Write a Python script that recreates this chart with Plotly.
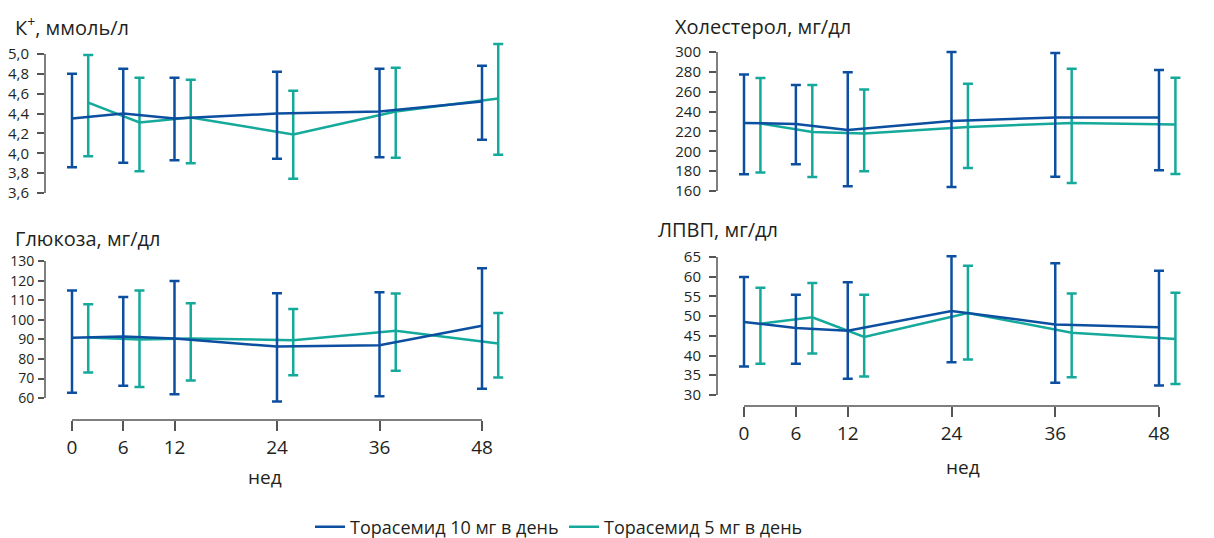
import plotly.graph_objects as go

weeks = [0, 6, 12, 24, 36, 48]
green_offset = 1.9  # horizontal dodge of the 5 mg series

series_names = ["Торасемид 10 мг в день", "Торасемид 5 мг в день"]
colors = ["#0c4fa0", "#14a99a"]

# K+, mmol/l
k_blue_mean = [4.35, 4.40, 4.35, 4.40, 4.42, 4.52]
k_blue_hi = [4.80, 4.85, 4.76, 4.82, 4.85, 4.88]
k_blue_lo = [3.86, 3.905, 3.93, 3.945, 3.96, 4.135]
k_green_mean = [4.51, 4.31, 4.36, 4.19, 4.42, 4.55]
k_green_hi = [4.99, 4.76, 4.74, 4.63, 4.86, 5.10]
k_green_lo = [3.97, 3.82, 3.90, 3.745, 3.955, 3.985]

# Cholesterol, mg/dl
ch_blue_mean = [228.5, 227.5, 221.5, 230.5, 234.0, 234.0]
ch_blue_hi = [277.2, 266.8, 279.5, 300.0, 299.0, 281.9]
ch_blue_lo = [176.8, 186.9, 164.7, 164.0, 174.4, 180.8]
ch_green_mean = [228.0, 219.5, 218.0, 224.5, 228.5, 227.0]
ch_green_hi = [273.8, 266.8, 262.1, 268.1, 283.2, 274.1]
ch_green_lo = [178.5, 174.1, 179.8, 183.2, 168.1, 177.1]

# Glucose, mg/dl
gl_blue_mean = [90.8, 91.4, 90.4, 86.3, 87.0, 97.0]
gl_blue_hi = [115.0, 111.6, 119.8, 113.5, 114.0, 126.3]
gl_blue_lo = [62.7, 66.3, 62.0, 58.3, 60.9, 64.8]
gl_green_mean = [90.9, 89.9, 90.4, 89.6, 94.4, 87.9]
gl_green_hi = [107.9, 115.0, 108.4, 105.5, 113.4, 103.5]
gl_green_lo = [73.1, 65.6, 69.0, 71.6, 73.9, 70.5]

# HDL (ЛПВП), mg/dl
hdl_blue_mean = [48.5, 47.0, 46.3, 51.3, 47.9, 47.2]
hdl_blue_hi = [59.9, 55.4, 58.6, 65.2, 63.4, 61.5]
hdl_blue_lo = [37.2, 37.9, 34.1, 38.3, 33.1, 32.4]
hdl_green_mean = [48.1, 49.7, 44.7, 50.8, 45.8, 44.2]
hdl_green_hi = [57.2, 58.4, 55.4, 62.8, 55.7, 55.9]
hdl_green_lo = [37.9, 40.5, 34.7, 39.0, 34.5, 32.8]

k_ticks = [3.6, 3.8, 4.0, 4.2, 4.4, 4.6, 4.8, 5.0]
k_ticktext = ["3,6", "3,8", "4,0", "4,2", "4,4", "4,6", "4,8", "5,0"]
ch_ticks = [160, 180, 200, 220, 240, 260, 280, 300]
gl_ticks = [60, 70, 80, 90, 100, 110, 120, 130]
hdl_ticks = [30, 35, 40, 45, 50, 55, 60, 65]

titles = ["К<sup>+</sup>, ммоль/л", "Холестерол, мг/дл", "Глюкоза, мг/дл", "ЛПВП, мг/дл"]
x_label = "нед"

# The page body has an 8px default margin, so the figure is offset by 8px.
PAGE_W, PAGE_H, OFF = 1214, 538, 8
W, H = PAGE_W - OFF, PAGE_H - OFF
FONT = "Open Sans"
AXIS_COLOR = "#555555"
TEXT_COLOR = "#231f20"


def px_x(p):
    return (p - OFF) / W


def px_y(p):
    return 1 - (p - OFF) / H


fig = go.Figure()

panels = [
    ("", (k_blue_mean, k_blue_hi, k_blue_lo, k_green_mean, k_green_hi, k_green_lo),
     k_ticks, k_ticktext, [3.53, 5.19]),
    ("2", (ch_blue_mean, ch_blue_hi, ch_blue_lo, ch_green_mean, ch_green_hi, ch_green_lo),
     ch_ticks, [str(v) for v in ch_ticks], [150.9, 317.1]),
    ("3", (gl_blue_mean, gl_blue_hi, gl_blue_lo, gl_green_mean, gl_green_hi, gl_green_lo),
     gl_ticks, [str(v) for v in gl_ticks], [48.8, 138.2]),
    ("4", (hdl_blue_mean, hdl_blue_hi, hdl_blue_lo, hdl_green_mean, hdl_green_hi, hdl_green_lo),
     hdl_ticks, [str(v) for v in hdl_ticks], [27.2, 69.3]),
]

for i, (sfx, d, ticks, ttext, yr) in enumerate(panels):
    bm, bh, bl, gm, gh, gl = d
    xa, ya = "x" + sfx, "y" + sfx
    gx = [w + green_offset for w in weeks]
    fig.add_trace(go.Scatter(
        x=gx, y=gm, mode="lines", xaxis=xa, yaxis=ya,
        name=series_names[1], legendgroup="g", showlegend=(i == 0), legendrank=2,
        line=dict(color=colors[1], width=2.5),
        error_y=dict(type="data", symmetric=False,
                     array=[h - m for h, m in zip(gh, gm)],
                     arrayminus=[m - l for m, l in zip(gm, gl)],
                     color=colors[1], thickness=2.5, width=5),
        hoverinfo="skip"))
    fig.add_trace(go.Scatter(
        x=weeks, y=bm, mode="lines", xaxis=xa, yaxis=ya,
        name=series_names[0], legendgroup="b", showlegend=(i == 0), legendrank=1,
        line=dict(color=colors[0], width=2.5),
        error_y=dict(type="data", symmetric=False,
                     array=[h - m for h, m in zip(bh, bm)],
                     arrayminus=[m - l for m, l in zip(bm, bl)],
                     color=colors[0], thickness=2.5, width=5),
        hoverinfo="skip"))

left_dom = [px_x(45), px_x(520)]
right_dom = [px_x(717), 1.0]
left_xr = [-(72 - 45) / 8.542, 48 + (520 - 482) / 8.542]
right_xr = [-(744 - 717) / 8.646, 48 + (1214 - 1159) / 8.646]

dom_y = {
    "": [px_y(200), px_y(35)],
    "2": [px_y(200), px_y(35)],
    "3": [px_y(420), px_y(245)],
    "4": [px_y(406), px_y(240)],
}
x_dom = {"": left_dom, "2": right_dom, "3": left_dom, "4": right_dom}
x_rng = {"": left_xr, "2": right_xr, "3": left_xr, "4": right_xr}
y_standoff = {"": 5, "2": 5, "3": 1, "4": 5}
y_fontsize = {"": 15, "2": 15, "3": 14, "4": 15}
y_ticklen = {"": 7, "2": 7, "3": 6, "4": 7}

layout = dict(
    width=W, height=H,
    margin=dict(l=0, r=0, t=0, b=0, pad=0, autoexpand=False),
    paper_bgcolor="white", plot_bgcolor="white",
    font=dict(family=FONT, color=TEXT_COLOR),
    showlegend=True,
    legend=dict(orientation="h", x=px_x(310), xanchor="left", y=px_y(527), yanchor="middle",
                font=dict(size=18, family=FONT, color=TEXT_COLOR),
                traceorder="normal", itemwidth=30, entrywidth=209, entrywidthmode="pixels",
                bgcolor="rgba(0,0,0,0)"),
)

shapes = []
for sfx, d_, ticks, ttext, yr in panels:
    xk = "xaxis" + sfx
    yk = "yaxis" + sfx
    bottom = sfx in ("3", "4")
    layout[xk] = dict(
        domain=x_dom[sfx], range=x_rng[sfx], anchor="y" + sfx, automargin=False,
        visible=bottom, showgrid=False, zeroline=False, showline=False,
        tickvals=weeks, ticktext=[str(w) for w in weeks],
        ticks="outside", ticklen=10, tickwidth=1.5, tickcolor=AXIS_COLOR,
        tickfont=dict(size=19, family=FONT, color=TEXT_COLOR), fixedrange=True,
    )
    layout[yk] = dict(
        domain=dom_y[sfx], range=yr, anchor="x" + sfx, automargin=False,
        showgrid=False, zeroline=False, showline=False,
        tickvals=ticks, ticktext=ttext,
        ticks="outside", ticklen=y_ticklen[sfx], tickwidth=1.5, tickcolor=AXIS_COLOR,
        ticklabelstandoff=y_standoff[sfx],
        tickfont=dict(size=y_fontsize[sfx], family=FONT, color=TEXT_COLOR), fixedrange=True,
    )
    shapes.append(dict(type="line", xref=("x" + sfx) + " domain", yref="y" + sfx,
                       x0=0, x1=0, y0=ticks[0], y1=ticks[-1],
                       line=dict(color=AXIS_COLOR, width=1.5)))
    if bottom:
        shapes.append(dict(type="line", xref="x" + sfx, yref=("y" + sfx) + " domain",
                           x0=weeks[0], x1=weeks[-1], y0=0, y1=0,
                           line=dict(color=AXIS_COLOR, width=1.5)))

layout["shapes"] = shapes

annotations = []
title_pos = [(13, 27), (673, 27), (13, 238), (656, 229)]
for t, (tx, ty) in zip(titles, title_pos):
    annotations.append(dict(text=t, xref="paper", yref="paper", x=px_x(tx), y=px_y(ty),
                            xanchor="left", yanchor="middle", showarrow=False,
                            font=dict(size=20, family=FONT, color=TEXT_COLOR)))
for cx, cy in [(265, 477), (963, 467)]:
    annotations.append(dict(text=x_label, xref="paper", yref="paper", x=px_x(cx), y=px_y(cy),
                            xanchor="center", yanchor="middle", showarrow=False,
                            font=dict(size=19, family=FONT, color=TEXT_COLOR)))
layout["annotations"] = annotations

fig.update_layout(**layout)
fig.write_html("out.html")
